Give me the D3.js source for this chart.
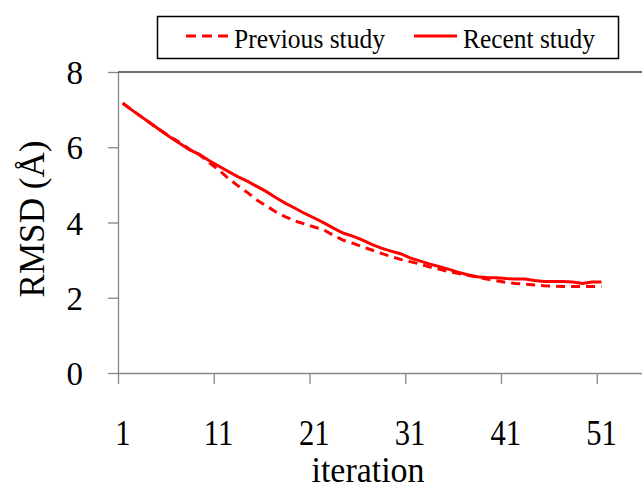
<!DOCTYPE html>
<html>
<head>
<meta charset="utf-8">
<script src="https://d3js.org/d3.v7.min.js"></script>
<style>
    body { margin: 0; background: #fff; }
    svg text { font-family: "Liberation Serif", "Times New Roman", Times, serif; }
    .axis path, .axis line { stroke: #868686; stroke-width: 1.3px; }
</style>
</head>
<body>
<script>
// iteration numbers 1..51
const iterations = d3.range(1, 52);

// previous study (dashed)
const previousStudy = [7.17, 6.98, 6.80, 6.62, 6.44, 6.27, 6.12, 5.94, 5.80, 5.60,
    5.40, 5.18, 4.98, 4.80, 4.60, 4.44, 4.28, 4.15, 4.04, 3.96,
    3.88, 3.80, 3.66, 3.53, 3.45, 3.36, 3.27, 3.18, 3.10, 3.02,
    2.96, 2.90, 2.82, 2.76, 2.70, 2.65, 2.60, 2.55, 2.50, 2.45,
    2.41, 2.38, 2.36, 2.34, 2.32, 2.31, 2.30, 2.30, 2.30, 2.30, 2.30];

// recent study (solid)
const recentStudy = [7.17, 6.98, 6.80, 6.62, 6.44, 6.26, 6.09, 5.93, 5.81, 5.65,
    5.50, 5.36, 5.22, 5.10, 4.96, 4.82, 4.66, 4.51, 4.38, 4.24,
    4.12, 3.99, 3.85, 3.72, 3.64, 3.54, 3.42, 3.32, 3.24, 3.17,
    3.06, 2.98, 2.90, 2.83, 2.76, 2.68, 2.61, 2.56, 2.54, 2.53,
    2.51, 2.50, 2.50, 2.46, 2.43, 2.43, 2.43, 2.42, 2.38, 2.42, 2.42];

const xTickLabels = [1, 11, 21, 31, 41, 51];
const yTicks = [0, 2, 4, 6, 8];

const width = 642, height = 488;
const plotLeft = 118, plotTop = 72, plotBottom = 373;

const svg = d3.select("body").append("svg")
    .attr("width", width)
    .attr("height", height)
    .attr("font-family", "Liberation Serif");

// category axis: 55 slots, each point in the middle of its slot
const x = d3.scaleLinear().domain([0.5, 55.5]).range([plotLeft, plotLeft + 55 * 9.575]);
const y = d3.scaleLinear().domain([0, 8]).range([plotBottom, plotTop]);

// y axis
svg.append("g")
    .attr("class", "axis")
    .attr("transform", "translate(" + plotLeft + ",0)")
    .call(d3.axisLeft(y).tickValues(yTicks).tickSize(10).tickSizeOuter(0).tickFormat(""));

svg.selectAll(".ylab")
    .data(yTicks)
    .join("text")
    .attr("class", "ylab")
    .attr("x", 83)
    .attr("y", d => y(d) + 12)
    .attr("text-anchor", "end")
    .attr("font-family", "Liberation Serif")
    .attr("font-size", 33)
    .text(d => d);

// top border of plot area
svg.append("line")
    .attr("x1", plotLeft).attr("x2", width)
    .attr("y1", plotTop).attr("y2", plotTop)
    .attr("stroke", "#404040")
    .attr("stroke-width", 1.5);

// x axis: ticks between categories
svg.append("g")
    .attr("class", "axis")
    .attr("transform", "translate(0," + plotBottom + ")")
    .call(d3.axisBottom(x).tickValues(xTickLabels.map(d => d - 0.5)).tickSize(11).tickSizeOuter(0).tickFormat(""));

svg.selectAll(".xlab")
    .data(xTickLabels)
    .join("text")
    .attr("class", "xlab")
    .attr("x", d => x(d))
    .attr("y", 445)
    .attr("text-anchor", "middle")
    .attr("font-family", "Liberation Serif")
    .attr("font-size", 36)
    .attr("transform", d => "translate(" + x(d) + ",0) scale(0.85,1) translate(" + (-x(d)) + ",0)")
    .text(d => d);

svg.append("text")
    .attr("x", 368)
    .attr("y", 482)
    .attr("text-anchor", "middle")
    .attr("textLength", 113)
    .attr("lengthAdjust", "spacingAndGlyphs")
    .attr("font-family", "Liberation Serif")
    .attr("font-size", 35)
    .text("iteration");

svg.append("text")
    .attr("transform", "translate(44,219) rotate(-90)")
    .attr("text-anchor", "middle")
    .attr("textLength", 157)
    .attr("lengthAdjust", "spacingAndGlyphs")
    .attr("font-family", "Liberation Serif")
    .attr("font-size", 36)
    .text("RMSD (Å)");

// lines
const line = d3.line()
    .x((d, i) => x(iterations[i]))
    .y(d => y(d));

svg.append("path")
    .datum(previousStudy)
    .attr("d", line)
    .attr("fill", "none")
    .attr("stroke", "#ff0000")
    .attr("stroke-width", 3)
    .attr("stroke-dasharray", "9,6");

svg.append("path")
    .datum(recentStudy)
    .attr("d", line)
    .attr("fill", "none")
    .attr("stroke", "#ff0000")
    .attr("stroke-width", 3);

// legend
const legend = svg.append("g");
legend.append("rect")
    .attr("x", 157.5).attr("y", 16.5)
    .attr("width", 461).attr("height", 42)
    .attr("fill", "#fff")
    .attr("stroke", "#000")
    .attr("stroke-width", 1.5);

const legendItems = [
    {name: "Previous study", dash: "10,6", x0: 186, tx: 234, tw: 151},
    {name: "Recent study", dash: null, x0: 414, tx: 463, tw: 132}
];

legendItems.forEach(item => {
    legend.append("line")
        .attr("x1", item.x0).attr("x2", item.x0 + 43)
        .attr("y1", 36).attr("y2", 36)
        .attr("stroke", "#ff0000")
        .attr("stroke-width", 3)
        .attr("stroke-dasharray", item.dash);
    legend.append("text")
        .attr("x", item.tx)
        .attr("y", 48)
        .attr("textLength", item.tw)
        .attr("lengthAdjust", "spacingAndGlyphs")
        .attr("font-family", "Liberation Serif")
        .attr("font-size", 28)
        .text(item.name);
});
</script>
</body>
</html>
